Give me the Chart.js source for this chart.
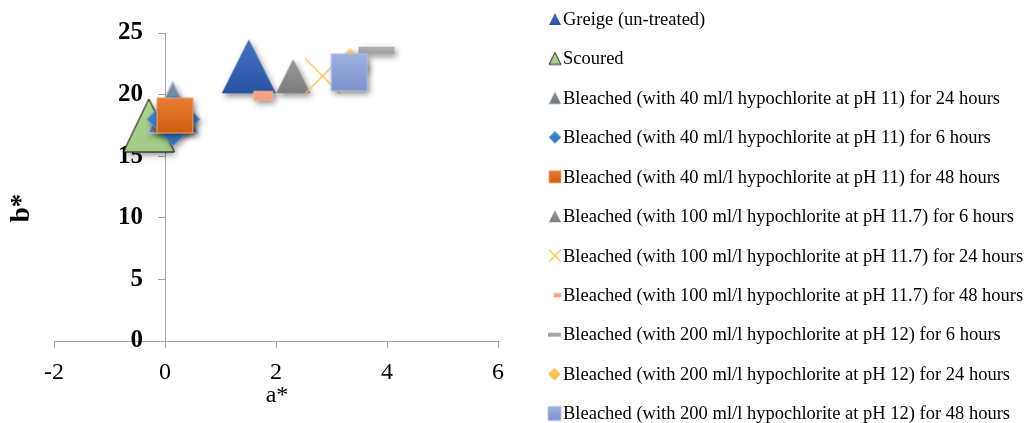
<!DOCTYPE html>
<html><head><meta charset="utf-8">
<script src="https://cdn.jsdelivr.net/npm/chart.js@4/dist/chart.umd.min.js"></script>
<style>html,body{margin:0;padding:0;background:#fff;} #wrap{width:1027px;height:423px;position:relative;}</style>
</head><body><div id="wrap"><canvas id="c" width="1027" height="423"></canvas></div>
<script>
// ---- data ----
const seriesNames = [
  "Greige (un-treated)",
  "Scoured",
  "Bleached (with 40 ml/l hypochlorite at pH 11) for 24 hours",
  "Bleached (with 40 ml/l hypochlorite at pH 11) for 6 hours",
  "Bleached (with 40 ml/l hypochlorite at pH 11) for 48 hours",
  "Bleached (with 100 ml/l hypochlorite at pH 11.7) for 6 hours",
  "Bleached (with 100 ml/l hypochlorite at pH 11.7) for 24 hours",
  "Bleached (with 100 ml/l hypochlorite at pH 11.7) for 48 hours",
  "Bleached (with 200 ml/l hypochlorite at pH 12) for 6 hours",
  "Bleached (with 200 ml/l hypochlorite at pH 12) for 24 hours",
  "Bleached (with 200 ml/l hypochlorite at pH 12) for 48 hours"
];
const aStar = [1.51, -0.29, 0.14, 0.15, 0.18, 2.31, 2.84, 1.77, 3.81, 3.34, 3.32];
const bStar = [22.3, 17.5, 18.95, 18.0, 18.3, 21.5, 21.5, 19.9, 23.6, 22.3, 21.8];
const xTickValues = [-2, 0, 2, 4, 6];
const yTickValues = [0, 5, 10, 15, 20, 25];
const xTitle = "a*";
const yTitle = "b*";

// ---- marker styles ----
const markerStyles = [
  {shape:'tri',  w:54, h:54, c1:'#4574c4', c2:'#2a52a2', stroke:null, lw:12, lh:12},
  {shape:'tri',  w:51, h:53, c1:'#aed493', c2:'#a2cb86', stroke:'#000', sw:1, lw:12, lh:12},
  {shape:'tri',  w:50, h:51, c1:'#8a8a8a', c2:'#777', stroke:'#9cc0e8', sw:1.5, lw:12, lh:12},
  {shape:'dia',  w:53, h:53, c1:'#4a8ad0', c2:'#2f70b6', stroke:'#6fa2d8', sw:1, lw:12, lh:12},
  {shape:'rect', w:36, h:35, c1:'#e77b34', c2:'#cf600f', stroke:'#efa070', sw:1, lw:12, lh:12},
  {shape:'tri',  w:34, h:34, c1:'#9a9a9a', c2:'#7c7c7c', stroke:null, lw:12, lh:12},
  {shape:'x',    w:35, h:35, c1:'#f2c14e', c2:'#f2c14e', stroke:'#f2c14e', sw:1.3, lw:12, lh:12},
  {shape:'rect', w:19, h:9,  c1:'#f6ab8a', c2:'#f29c78', stroke:'#f8bca0', sw:1, lw:7, lh:4},
  {shape:'rect', w:36, h:7,  c1:'#b0b0b0', c2:'#a0a0a0', stroke:null, lw:13, lh:4},
  {shape:'dia',  w:36, h:36, c1:'#ffcb6b', c2:'#f8bb50', stroke:null, lw:13, lh:13},
  {shape:'rect', w:36, h:37, c1:'#9db0e0', c2:'#7e93cf', stroke:'#b0c0e6', sw:1, lw:13, lh:14}
];

function makeMarker(m, small) {
  const w = small ? m.lw : m.w, h = small ? m.lh : m.h;
  const pad = small ? 2 : 10;
  const cv = document.createElement('canvas');
  cv.width = Math.round(w + 2 * pad); cv.height = Math.round(h + 2 * pad);
  const ctx = cv.getContext('2d');
  const cx = cv.width / 2, cy = cv.height / 2;
  ctx.beginPath();
  if (m.shape === 'tri') {
    ctx.moveTo(cx, cy - h / 2); ctx.lineTo(cx + w / 2, cy + h / 2); ctx.lineTo(cx - w / 2, cy + h / 2); ctx.closePath();
  } else if (m.shape === 'dia') {
    ctx.moveTo(cx, cy - h / 2); ctx.lineTo(cx + w / 2, cy); ctx.lineTo(cx, cy + h / 2); ctx.lineTo(cx - w / 2, cy); ctx.closePath();
  } else if (m.shape === 'rect') {
    ctx.rect(cx - w / 2, cy - h / 2, w, h);
  } else if (m.shape === 'x') {
    ctx.moveTo(cx - w / 2, cy - h / 2); ctx.lineTo(cx + w / 2, cy + h / 2);
    ctx.moveTo(cx + w / 2, cy - h / 2); ctx.lineTo(cx - w / 2, cy + h / 2);
  }
  if (m.shape === 'x') {
    ctx.strokeStyle = m.stroke; ctx.lineWidth = small ? 1.2 : m.sw; ctx.stroke();
    return cv;
  }
  const g = ctx.createLinearGradient(0, cy - h / 2, 0, cy + h / 2);
  g.addColorStop(0, m.c1); g.addColorStop(1, m.c2);
  ctx.fillStyle = g;
  if (!small) {
    ctx.shadowColor = 'rgba(0,0,0,0.45)'; ctx.shadowBlur = 6; ctx.shadowOffsetX = 2; ctx.shadowOffsetY = 3;
  }
  ctx.fill();
  ctx.shadowColor = 'transparent';
  if (m.stroke) { ctx.strokeStyle = m.stroke; ctx.lineWidth = small ? 0.8 : m.sw; ctx.stroke(); }
  return cv;
}

const FONT = "'Liberation Serif','Times New Roman',serif";
const N = seriesNames.length;
const datasets = seriesNames.map((name, i) => ({
  label: name,
  data: [{x: aStar[i], y: bStar[i]}],
  pointStyle: makeMarker(markerStyles[i], false),
  legendMarker: makeMarker(markerStyles[i], true),
  pointRadius: 12,
  pointHoverRadius: 12,
  order: N - i,
  clip: false
}));

const customLegend = {
  id: 'customLegend',
  afterDraw(chart) {
    const ctx = chart.ctx;
    ctx.save();
    ctx.font = "18.5px " + FONT;
    ctx.fillStyle = '#000';
    ctx.textBaseline = 'middle';
    ctx.textAlign = 'left';
    chart.data.datasets.forEach((ds, i) => {
      const y = 19 + i * 39.45;
      const mk = ds.legendMarker;
      ctx.drawImage(mk, 563 - mk.width, y - mk.height / 2);
      ctx.fillText(ds.label, 563, y + 1);
    });
    ctx.restore();
  }
};

// y tick labels (axis sits at a* = 0) drawn beneath the markers
const yTickLabels = {
  id: 'yTickLabels',
  beforeDatasetsDraw(chart) {
    const ctx = chart.ctx;
    const xs = chart.scales.x, ys = chart.scales.y;
    const x0 = xs.getPixelForValue(0);
    ctx.save();
    ctx.fillStyle = '#000';
    ctx.textAlign = 'right';
    ctx.textBaseline = 'middle';
    ctx.font = "bold 25px " + FONT;
    yTickValues.forEach(v => ctx.fillText(String(v), x0 - 22, ys.getPixelForValue(v)));
    ctx.restore();
  }
};

const axisTitles = {
  id: 'axisTitles',
  afterDraw(chart) {
    const ctx = chart.ctx;
    const xs = chart.scales.x, ys = chart.scales.y;
    ctx.save();
    ctx.fillStyle = '#000';
    ctx.textAlign = 'center';
    ctx.textBaseline = 'middle';
    ctx.font = "24px " + FONT;
    ctx.fillText(xTitle, (xs.getPixelForValue(2) + 1), xs.bottom - 27);
    ctx.translate(22, ys.getPixelForValue(10.8));
    ctx.rotate(-Math.PI / 2);
    ctx.font = "bold 27px " + FONT;
    ctx.fillText(yTitle, 0, 0);
    ctx.restore();
  }
};

new Chart(document.getElementById('c'), {
  type: 'scatter',
  data: { datasets },
  plugins: [customLegend, yTickLabels, axisTitles],
  options: {
    responsive: false,
    animation: false,
    layout: { padding: { left: 54, right: 529, top: 33, bottom: 0 } },
    plugins: { legend: { display: false }, tooltip: { enabled: false } },
    scales: {
      x: {
        type: 'linear', position: 'bottom', min: xTickValues[0], max: xTickValues[xTickValues.length - 1],
        afterBuildTicks: s => { s.ticks = xTickValues.map(v => ({value: v})); },
        afterFit: s => { s.height = 82; },
        grid: { drawOnChartArea: false, drawTicks: true, tickLength: 7, color: '#a6a6a6' },
        border: { color: '#a6a6a6', width: 1 },
        ticks: { color: '#000', font: { family: FONT, size: 24 }, padding: 10, maxRotation: 0 }
      },
      y: {
        type: 'linear', position: { x: 0 }, min: yTickValues[0], max: yTickValues[yTickValues.length - 1],
        afterBuildTicks: s => { s.ticks = yTickValues.map(v => ({value: v})); },
        afterFit: s => { s.width = 0; },
        grid: { drawOnChartArea: false, drawTicks: true, tickLength: 7, color: '#a6a6a6' },
        border: { color: '#a6a6a6', width: 1 },
        ticks: { display: false }
      }
    }
  }
});
</script>
</body></html>
